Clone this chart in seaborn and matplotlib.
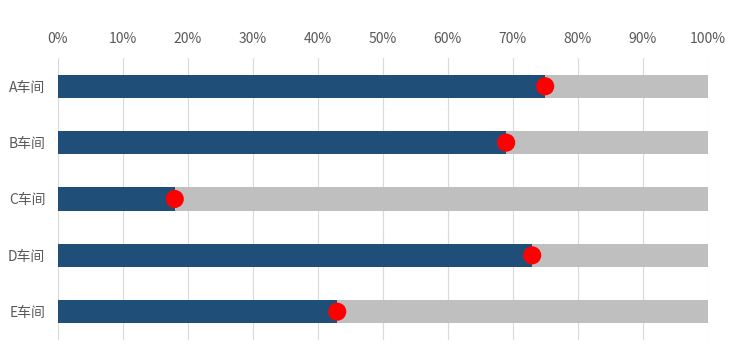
import matplotlib
matplotlib.use("Agg")
import matplotlib.pyplot as plt
import seaborn as sns
import pandas as pd
from matplotlib.ticker import PercentFormatter

categories = ["A车间", "B车间", "C车间", "D车间", "E车间"]
completion = [75, 69, 18, 73, 43]
target = [100, 100, 100, 100, 100]
tick_values = [0, 10, 20, 30, 40, 50, 60, 70, 80, 90, 100]

df = pd.DataFrame({"车间": categories, "完成率": completion, "目标": target})

sns.set_theme(style="white")
plt.rcParams['font.family'] = ['Noto Sans CJK SC', 'DejaVu Sans']

fig = plt.figure(figsize=(7.41, 3.5), dpi=100)
ax = fig.add_axes([0.078, 0.029, 0.877, 0.805])

sns.barplot(data=df, y="车间", x="目标", orient="h", color="#bfbfbf",
            width=0.41, saturation=1, linewidth=0, ax=ax, zorder=2)
sns.barplot(data=df, y="车间", x="完成率", orient="h", color="#1f4e79",
            width=0.41, saturation=1, linewidth=0, ax=ax, zorder=3)
sns.scatterplot(data=df, y="车间", x="完成率", color="#ff0000", s=170,
                edgecolor="none", ax=ax, zorder=4, legend=False)

ax.set_xlim(0, 100)
ax.set_ylim(4.5, -0.5)
ax.set_xticks(tick_values)
ax.xaxis.set_major_formatter(PercentFormatter(decimals=0))
ax.xaxis.tick_top()
ax.grid(axis="x", color="#d9d9d9", linewidth=0.8, zorder=0)
ax.set_axisbelow(True)
for s in ax.spines.values():
    s.set_visible(False)
ax.set_xlabel("")
ax.set_ylabel("")
ax.tick_params(axis="x", length=0, pad=9, labelsize=10, labelcolor="#595959")
ax.tick_params(axis="y", length=0, pad=9, labelsize=10, labelcolor="#595959")

fig.savefig("out.png", dpi=100)
